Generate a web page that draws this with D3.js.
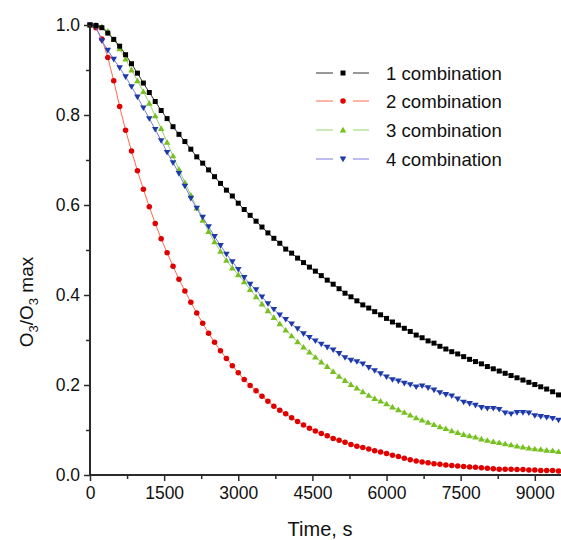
<!DOCTYPE html>
<html>
<head>
<meta charset="utf-8">
<script src="https://cdn.jsdelivr.net/npm/d3@7"></script>
<style>
  html, body { margin: 0; padding: 0; background: #ffffff; }
  svg { display: block; }
  text { font-family: "Liberation Sans", Arial, sans-serif; fill: #111; }
</style>
</head>
<body>
<svg id="chart" width="561" height="540"></svg>
<script>
// ---------------- data ----------------
const time = [0,120,240,360,480,600,720,840,960,1080,1200,1320,1440,1560,1680,1800,1920,2040,2160,2280,
  2400,2520,2640,2760,2880,3000,3120,3240,3360,3480,3600,3720,3840,3960,4080,4200,4320,4440,4560,4680,
  4800,4920,5040,5160,5280,5400,5520,5640,5760,5880,6000,6120,6240,6360,6480,6600,6720,6840,6960,7080,
  7200,7320,7440,7560,7680,7800,7920,8040,8160,8280,8400,8520,8640,8760,8880,9000,9120,9240,9360,9480];

const comb1 = [1.000,0.999,0.994,0.982,0.968,0.953,0.934,0.914,0.893,0.871,0.850,0.830,0.810,0.792,0.774,0.757,0.741,0.724,0.707,0.693,
  0.678,0.663,0.648,0.633,0.620,0.604,0.590,0.577,0.564,0.551,0.538,0.526,0.515,0.502,0.493,0.482,0.472,0.462,0.453,0.443,
  0.433,0.424,0.414,0.404,0.396,0.387,0.378,0.371,0.363,0.356,0.348,0.340,0.333,0.326,0.319,0.311,0.305,0.298,0.293,0.286,
  0.280,0.274,0.269,0.263,0.257,0.252,0.247,0.241,0.236,0.231,0.226,0.221,0.216,0.211,0.206,0.201,0.196,0.191,0.185,0.178];

const comb2 = [1.000,0.994,0.969,0.928,0.876,0.819,0.766,0.720,0.676,0.635,0.596,0.559,0.525,0.494,0.464,0.435,0.409,0.384,0.360,0.337,
  0.315,0.295,0.276,0.259,0.243,0.227,0.212,0.199,0.187,0.175,0.164,0.153,0.144,0.136,0.127,0.119,0.111,0.104,0.098,0.092,
  0.087,0.081,0.077,0.073,0.068,0.064,0.061,0.058,0.054,0.051,0.048,0.044,0.041,0.037,0.034,0.031,0.029,0.027,0.025,0.024,
  0.022,0.021,0.020,0.019,0.018,0.017,0.016,0.015,0.014,0.013,0.013,0.013,0.012,0.012,0.011,0.011,0.010,0.010,0.010,0.009];

const comb3 = [1.000,1.000,0.996,0.986,0.968,0.947,0.924,0.900,0.876,0.852,0.826,0.798,0.770,0.739,0.709,0.679,0.650,0.622,0.593,0.566,
  0.541,0.518,0.497,0.477,0.460,0.445,0.429,0.412,0.396,0.380,0.365,0.350,0.336,0.322,0.309,0.296,0.284,0.273,0.262,0.251,
  0.241,0.230,0.219,0.210,0.201,0.193,0.185,0.177,0.170,0.164,0.158,0.151,0.145,0.139,0.133,0.127,0.122,0.117,0.112,0.107,
  0.103,0.098,0.094,0.090,0.087,0.084,0.080,0.077,0.074,0.072,0.069,0.067,0.064,0.062,0.060,0.058,0.057,0.055,0.054,0.052];

const comb4 = [1.000,0.996,0.965,0.944,0.924,0.905,0.885,0.863,0.840,0.816,0.792,0.768,0.743,0.717,0.694,0.670,0.642,0.615,0.593,0.573,
  0.552,0.530,0.510,0.491,0.474,0.457,0.439,0.424,0.412,0.396,0.381,0.368,0.356,0.346,0.336,0.325,0.314,0.306,0.298,0.291,
  0.284,0.278,0.270,0.261,0.255,0.252,0.247,0.239,0.232,0.225,0.218,0.212,0.209,0.204,0.201,0.196,0.198,0.194,0.189,0.183,
  0.179,0.176,0.169,0.162,0.159,0.155,0.150,0.148,0.148,0.146,0.138,0.136,0.139,0.139,0.138,0.132,0.130,0.128,0.126,0.122];

const seriesNames = ["1 combination", "2 combination", "3 combination", "4 combination"];
const xTicks = [0, 1500, 3000, 4500, 6000, 7500, 9000];
const xMinorTicks = [750, 2250, 3750, 5250, 6750, 8250];
const yTicks = [0.0, 0.2, 0.4, 0.6, 0.8, 1.0];
const yMinorTicks = [0.1, 0.3, 0.5, 0.7, 0.9];

// ---------------- styles ----------------
const styles = [
  { values: comb1, line: "#333333", marker: "#000000", shape: "square" },
  { values: comb2, line: "#ff6a4a", marker: "#e00000", shape: "circle" },
  { values: comb3, line: "#95d46a", marker: "#78c020", shape: "up" },
  { values: comb4, line: "#7a7ae8", marker: "#1c3aa8", shape: "down" }
];

const svg = d3.select("#chart");
const x = d3.scaleLinear().domain([0, 9530]).range([90, 561]);
const y = d3.scaleLinear().domain([0, 1]).range([475, 25]);

function markerPath(shape) {
  if (shape === "square") return "M-2.5,-2.5H2.5V2.5H-2.5Z";
  if (shape === "circle") return d3.symbol(d3.symbolCircle, 24)();
  if (shape === "up") return "M0,-3.2L3.3,2.4L-3.3,2.4Z";
  return "M0,3.2L3.3,-2.4L-3.3,-2.4Z";
}

const drawOrder = [1, 2, 3, 0];
drawOrder.forEach(i => {
  const s = styles[i];
  const pts = time.map((t, k) => [t, s.values[k]]);
  const line = d3.line().x(d => x(d[0])).y(d => y(d[1]));
  svg.append("path").attr("d", line(pts))
    .attr("fill", "none").attr("stroke", s.line).attr("stroke-width", 1);
  svg.append("g").selectAll("path").data(pts).join("path")
    .attr("transform", d => `translate(${x(d[0])},${y(d[1])})`)
    .attr("d", markerPath(s.shape))
    .attr("fill", s.marker);
});

// ---------------- axes ----------------
const axisColor = "#2a2a2a";
const gx = svg.append("g").attr("transform", "translate(0,475)");
gx.call(d3.axisBottom(x).tickValues(xTicks).tickSize(6).tickPadding(6).tickFormat(d3.format("d")));
const gxm = svg.append("g").attr("transform", "translate(0,475)");
gxm.call(d3.axisBottom(x).tickValues(xMinorTicks).tickSize(4).tickFormat(""));
const gy = svg.append("g").attr("transform", "translate(90,0)");
gy.call(d3.axisLeft(y).tickValues(yTicks).tickSize(6).tickPadding(4).tickFormat(d3.format(".1f")));
const gym = svg.append("g").attr("transform", "translate(90,0)");
gym.call(d3.axisLeft(y).tickValues(yMinorTicks).tickSize(4).tickFormat(""));

[gx, gxm, gy, gym].forEach(g => {
  g.select(".domain").remove();
  g.selectAll(".tick line").attr("stroke", axisColor).attr("stroke-width", 1.5);
  g.selectAll(".tick text").attr("fill", "#111").style("font-size", "17.5px")
    .style("font-family", "'Liberation Sans', Arial, sans-serif");
});
svg.append("line").attr("x1", 90).attr("x2", 561).attr("y1", 475).attr("y2", 475)
  .attr("stroke", axisColor).attr("stroke-width", 2);
svg.append("line").attr("x1", 90).attr("x2", 90).attr("y1", 25).attr("y2", 475)
  .attr("stroke", axisColor).attr("stroke-width", 2);

// axis titles
svg.append("text").attr("x", 320).attr("y", 536).attr("text-anchor", "middle")
  .style("font-size", "20px").text("Time, s");

const yt = svg.append("text").attr("transform", "translate(33,302) rotate(-90)")
  .attr("text-anchor", "middle").style("font-size", "19px");
yt.append("tspan").text("O");
yt.append("tspan").attr("dy", 5).style("font-size", "13px").text("3");
yt.append("tspan").attr("dy", -5).text("/O");
yt.append("tspan").attr("dy", 5).style("font-size", "13px").text("3");
yt.append("tspan").attr("dy", -5).text(" max");

// ---------------- legend ----------------
const legY = [73, 101, 130, 159];
styles.forEach((s, i) => {
  const g = svg.append("g").attr("transform", `translate(0,${legY[i]})`);
  g.append("line").attr("x1", 316).attr("x2", 333).attr("stroke", s.line).attr("stroke-width", 1);
  g.append("line").attr("x1", 353).attr("x2", 369).attr("stroke", s.line).attr("stroke-width", 1);
  g.append("path").attr("transform", "translate(343,0)").attr("d", markerPath(s.shape)).attr("fill", s.marker);
  g.append("text").attr("x", 386).attr("y", 6.5).style("font-size", "18.6px").text(seriesNames[i]);
});
</script>
</body>
</html>
